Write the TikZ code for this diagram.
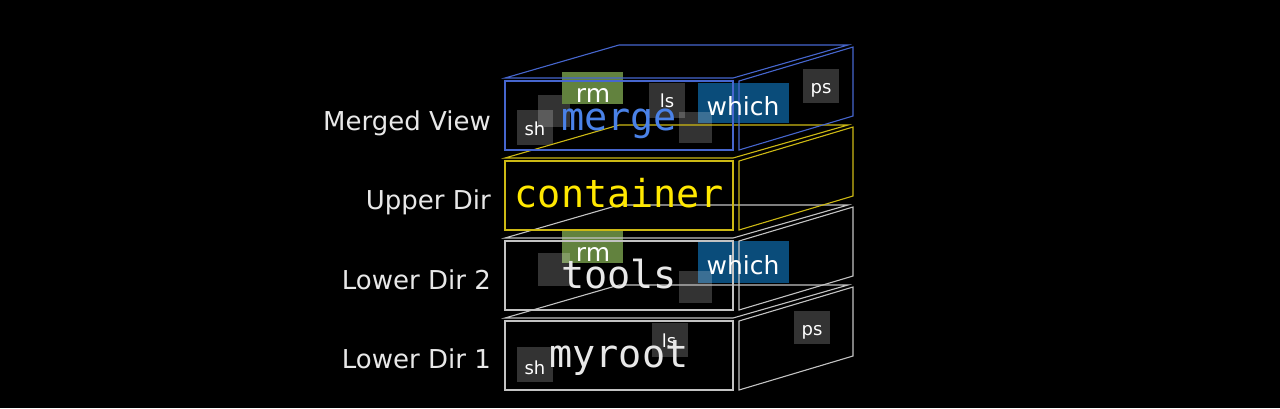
\documentclass[tikz,border=0pt]{standalone}
\usepackage{fontspec}
\setmainfont{DejaVu Sans}
\newfontfamily\codefont{DejaVu Sans Mono}
\definecolor{bluefr}{RGB}{70,102,206}
\definecolor{bluetx}{RGB}{74,130,232}
\definecolor{yelfr}{RGB}{205,185,20}
\definecolor{yeltx}{RGB}{255,232,0}
\definecolor{grayfr}{RGB}{195,195,195}
\definecolor{graytx}{RGB}{232,232,232}
\definecolor{rmgreen}{RGB}{98,130,62}
\definecolor{whichblue}{RGB}{10,76,122}
\definecolor{labeltx}{RGB}{232,232,232}
\tikzset{
  sqbox/.style={fill=white,fill opacity=0.2},
  greenbox/.style={fill=rmgreen},
  bluebox/.style={fill=whichblue},
  smalltx/.style={text=white,font=\fontsize{18}{20}\selectfont,inner sep=0pt,anchor=base},
  bigtx/.style={text=white,font=\fontsize{25}{28}\selectfont,inner sep=0pt,anchor=base},
  codetx/.style={font=\codefont\fontsize{38.5}{42}\selectfont,inner sep=0pt,anchor=base},
  layerlbl/.style={text=labeltx,font=\fontsize{26}{29}\selectfont,inner sep=0pt,anchor=base east},
  frame/.style={line width=1.1pt,line join=miter}
}
\newcommand\layerframe[2]{%
  \draw[frame,#2] (505,#1-3) -- (619,#1-36) -- (848,#1-36) -- (733,#1-3) -- cycle;
  \draw[frame,#2] (505,#1) rectangle (733,#1+69);
  \draw[frame,#2] (739,#1) -- (853,#1-34) -- (853,#1+35) -- (739,#1+69) -- cycle;
}
\begin{document}
\begin{tikzpicture}[x=1pt,y=-1pt]
\fill[black] (0,0) rectangle (1280,408);
\useasboundingbox (0,0) rectangle (1280,408);

% ---------- fills: merged view ----------
\fill[sqbox] (538,95) rectangle (570,127);
\fill[sqbox] (517,110) rectangle (553,145);
\fill[greenbox] (562,72) rectangle (623,104);
\fill[sqbox] (649,83) rectangle (685,118);
\fill[bluebox] (698,83) rectangle (789,123);
\fill[sqbox] (679,112) rectangle (712,143);
\fill[sqbox] (803,69) rectangle (839,103);

% ---------- fills: lower dir 2 ----------
\fill[greenbox] (562,231) rectangle (623,263);
\fill[sqbox] (538,253) rectangle (570,286);
\fill[bluebox] (698,241) rectangle (789,283);
\fill[sqbox] (679,271) rectangle (712,303);

% ---------- fills: lower dir 1 ----------
\fill[sqbox] (517,347) rectangle (553,382);
\fill[sqbox] (652,323) rectangle (688,357);
\fill[sqbox] (794,311) rectangle (830,344);

% ---------- frames ----------
\layerframe{321}{grayfr}
\layerframe{241}{grayfr}
\layerframe{161}{yelfr}
\layerframe{81}{bluefr}

% ---------- small labels ----------
\node[smalltx] (shM) at (535,135) {sh};
\node[bigtx] (rmM) at (593,102) {rm};
\node[smalltx] (lsM) at (667,107) {ls};
\node[bigtx] (whichM) at (743,115) {which};
\node[smalltx] (psM) at (821,93) {ps};

\node[bigtx] (rmL2) at (593,261) {rm};
\node[bigtx] (whichL2) at (743,274) {which};

\node[smalltx] (shL1) at (535,374) {sh};
\node[smalltx] (lsL1) at (669,347) {ls};
\node[smalltx] (psL1) at (812,335) {ps};

% ---------- layer names (code) ----------
\node[codetx,text=bluetx] (merge) at (619,130) {merge};
\node[codetx,text=yeltx] (container) at (619,207) {container};
\node[codetx,text=graytx] (tools) at (619,288) {tools};
\node[codetx,text=graytx] (myroot) at (619,367) {myroot};

% ---------- row labels ----------
\node[layerlbl] (lblM) at (491,130) {Merged View};
\node[layerlbl] (lblU) at (491,209) {Upper Dir};
\node[layerlbl] (lblL2) at (491,289) {Lower Dir 2};
\node[layerlbl] (lblL1) at (491,368) {Lower Dir 1};
\end{tikzpicture}
\end{document}
